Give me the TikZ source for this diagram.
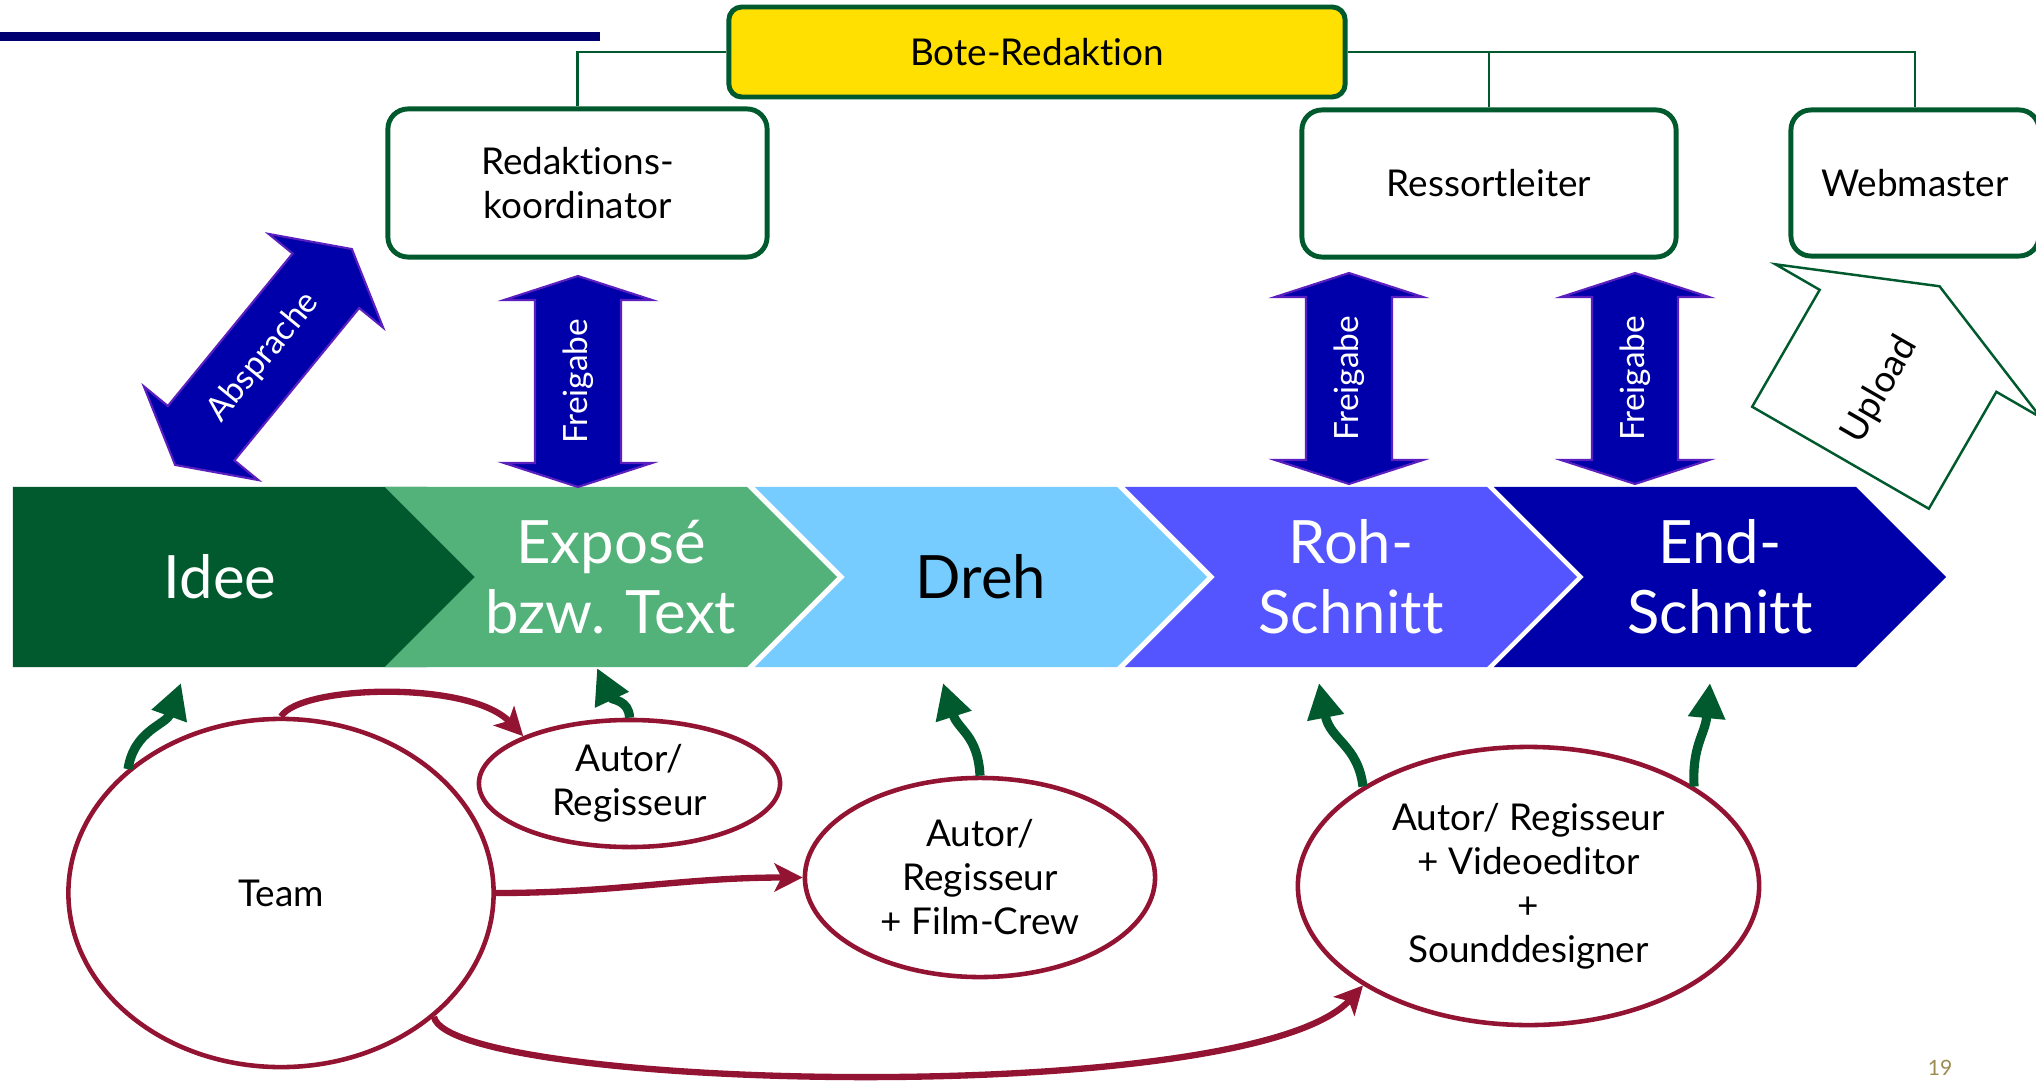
\documentclass[tikz,border=0pt]{standalone}
\usepackage{fontspec}
\setmainfont{Lato}[Ligatures={NoCommon}]
\usetikzlibrary{arrows.meta, shapes.geometric, shapes.symbols}

\definecolor{dkgreen}{HTML}{005A2E}
\definecolor{midgreen}{HTML}{52B279}
\definecolor{skyblue}{HTML}{77CCFF}
\definecolor{brightblue}{HTML}{5555FF}
\definecolor{deepblue}{HTML}{0000AA}
\definecolor{arrowrim}{HTML}{5B1FBF}
\definecolor{maroon}{HTML}{931432}
\definecolor{botegelb}{HTML}{FFE000}
\definecolor{navybar}{HTML}{000070}
\definecolor{pagegold}{HTML}{9C8C50}

% block arrow with two heads: centre, angle, half length, head length, name, label
\newcommand{\twinarrow}[6]{%
  \begin{scope}[shift={#1}, rotate=#2]
    \draw[twin] (-#3,0) -- (-#3+#4,74) -- (-#3+#4,43) -- (#3-#4,43) -- (#3-#4,74) -- (#3,0)
      -- (#3-#4,-74) -- (#3-#4,-43) -- (-#3+#4,-43) -- (-#3+#4,-74) -- cycle;
  \end{scope}
  \node[twinlabel, rotate=#2] (#5) at #1 {#6};}

\begin{document}
\begin{tikzpicture}[
  x=0.01cm, y=0.01cm,
  every node/.style={align=center, font=\fontsize{10.5}{12.5}\selectfont},
  office/.style={draw=dkgreen, line width=1.4pt, rounded corners=0.2cm, fill=white, inner sep=0pt},
  orgline/.style={draw=dkgreen, line width=0.7pt},
  phase/.style={signal, signal to=east, signal from=west, minimum width=4.52cm, minimum height=1.8cm,
    inner sep=0pt, text=white, font=\fontsize{17}{20}\selectfont},
  crew/.style={ellipse, draw=maroon, line width=1.3pt, fill=white, inner sep=0pt},
  twin/.style={fill=deepblue, draw=arrowrim, line width=0.6pt},
  twinlabel/.style={text=white, inner sep=0pt, font=\fontsize{9.5}{11}\selectfont},
  upload/.style={draw=dkgreen, fill=white, line width=0.7pt},
  rise/.style={draw=dkgreen, line width=2.6pt, -{Triangle[length=10pt, width=10pt]}},
  flow/.style={draw=maroon, line width=1.8pt, -{Stealth[length=8pt, width=8pt, inset=2pt]}},
  pagenum/.style={text=pagegold, inner sep=0pt, font=\fontsize{6}{7}\selectfont}
]
\useasboundingbox (0,0) rectangle (2036,-1082);
\clip (0,0) rectangle (2036,-1082);

% title bar
\fill[navybar] (0,-32) rectangle (600,-41);

% editorial office
\node[office, fill=botegelb, rounded corners=0.13cm, minimum width=6.16cm, minimum height=0.9cm] (bote) at (1037,-52) {Bote-Redaktion};
\node[office, minimum width=3.79cm, minimum height=1.48cm] (koord) at (577.5,-183) {Redaktions-\\koordinator};
\node[office, minimum width=3.74cm, minimum height=1.47cm] (ress) at (1489,-183.5) {Ressortleiter};
\node[office, minimum width=2.48cm, minimum height=1.46cm] (webm) at (1915,-183) {Webmaster};

\draw[orgline] (bote.west) -| (koord.north);
\draw[orgline] (bote.east) -| (webm.north);
\draw[orgline] (ress.north) -- (ress.north |- bote.east);

% production phases
\node[phase, fill=dkgreen, signal from=nowhere, minimum width=5.04cm] (idee) at (220,-577) {Idee};
\node[phase, fill=midgreen] (expose) at (611,-577) {Exposé\\bzw. Text};
\node[phase, fill=skyblue, text=black] (dreh) at (981,-577) {Dreh};
\node[phase, fill=brightblue] (roh) at (1351,-577) {Roh-\\Schnitt};
\node[phase, fill=deepblue] (endschnitt) at (1720,-577) {End-\\Schnitt};

% approvals
\twinarrow{(263.5,-357)}{50.7}{139.5}{41}{absprache}{Absprache}
\twinarrow{(578,-381.5)}{90}{105.5}{24}{frei1}{Freigabe}
\twinarrow{(1349,-378.5)}{90}{105.5}{24}{frei2}{Freigabe}
\twinarrow{(1635,-378.5)}{90}{105.5}{24}{frei3}{Freigabe}

% upload
\begin{scope}[shift={(1890,-372)}, rotate=60]
  \draw[upload] (-99,-102) -- (36,-102) -- (36,-153) -- (99,0) -- (36,153) -- (36,102) -- (-99,102) -- cycle;
\end{scope}
\node[rotate=60, inner sep=0pt] (upl) at (1880,-390) {Upload};

% people
\node[crew, minimum width=4.25cm, minimum height=3.48cm] (team) at (281,-893) {Team};
\node[crew, minimum width=3.01cm, minimum height=1.27cm] (autorA) at (629.5,-783.5) {Autor/\\Regisseur};
\node[crew, minimum width=3.50cm, minimum height=1.99cm] (crewB) at (980,-877.5) {Autor/\\Regisseur\\+ Film-Crew};
\node[crew, minimum width=4.61cm, minimum height=2.78cm] (schnitt) at (1528.5,-886) {Autor/ Regisseur\\+ Videoeditor\\+\\Sounddesigner};

% contributions to the phases
\coordinate (up1) at (181,-683);
\coordinate (up2) at (597,-668);
\coordinate (up3) at (943,-683);
\coordinate (up4) at (1319,-683);
\coordinate (up5) at (1710,-683);
\draw[rise] (team.141) .. controls (134,-730) and (166,-725) .. (up1);
\draw[rise] (autorA.north) .. controls (629,-700) and (612,-700) .. (up2);
\draw[rise] (crewB.north) .. controls (978,-735) and (958,-730) .. (up3);
\draw[rise] (schnitt.149) .. controls (1358,-745) and (1330,-740) .. (up4);
\draw[rise] (schnitt.31) .. controls (1692,-745) and (1705,-735) .. (up5);

% team hands over
\draw[flow] (team.north) .. controls (300,-685) and (470,-680) .. (autorA.156);
\draw[flow] (team.east) to[out=0, in=180] (crewB.west);
\draw[flow] (team.-39) .. controls (450,-1090) and (1250,-1110) .. (schnitt.211);

\node[pagenum] (pnum) at (1940,-1068) {19};
\end{tikzpicture}
\end{document}
